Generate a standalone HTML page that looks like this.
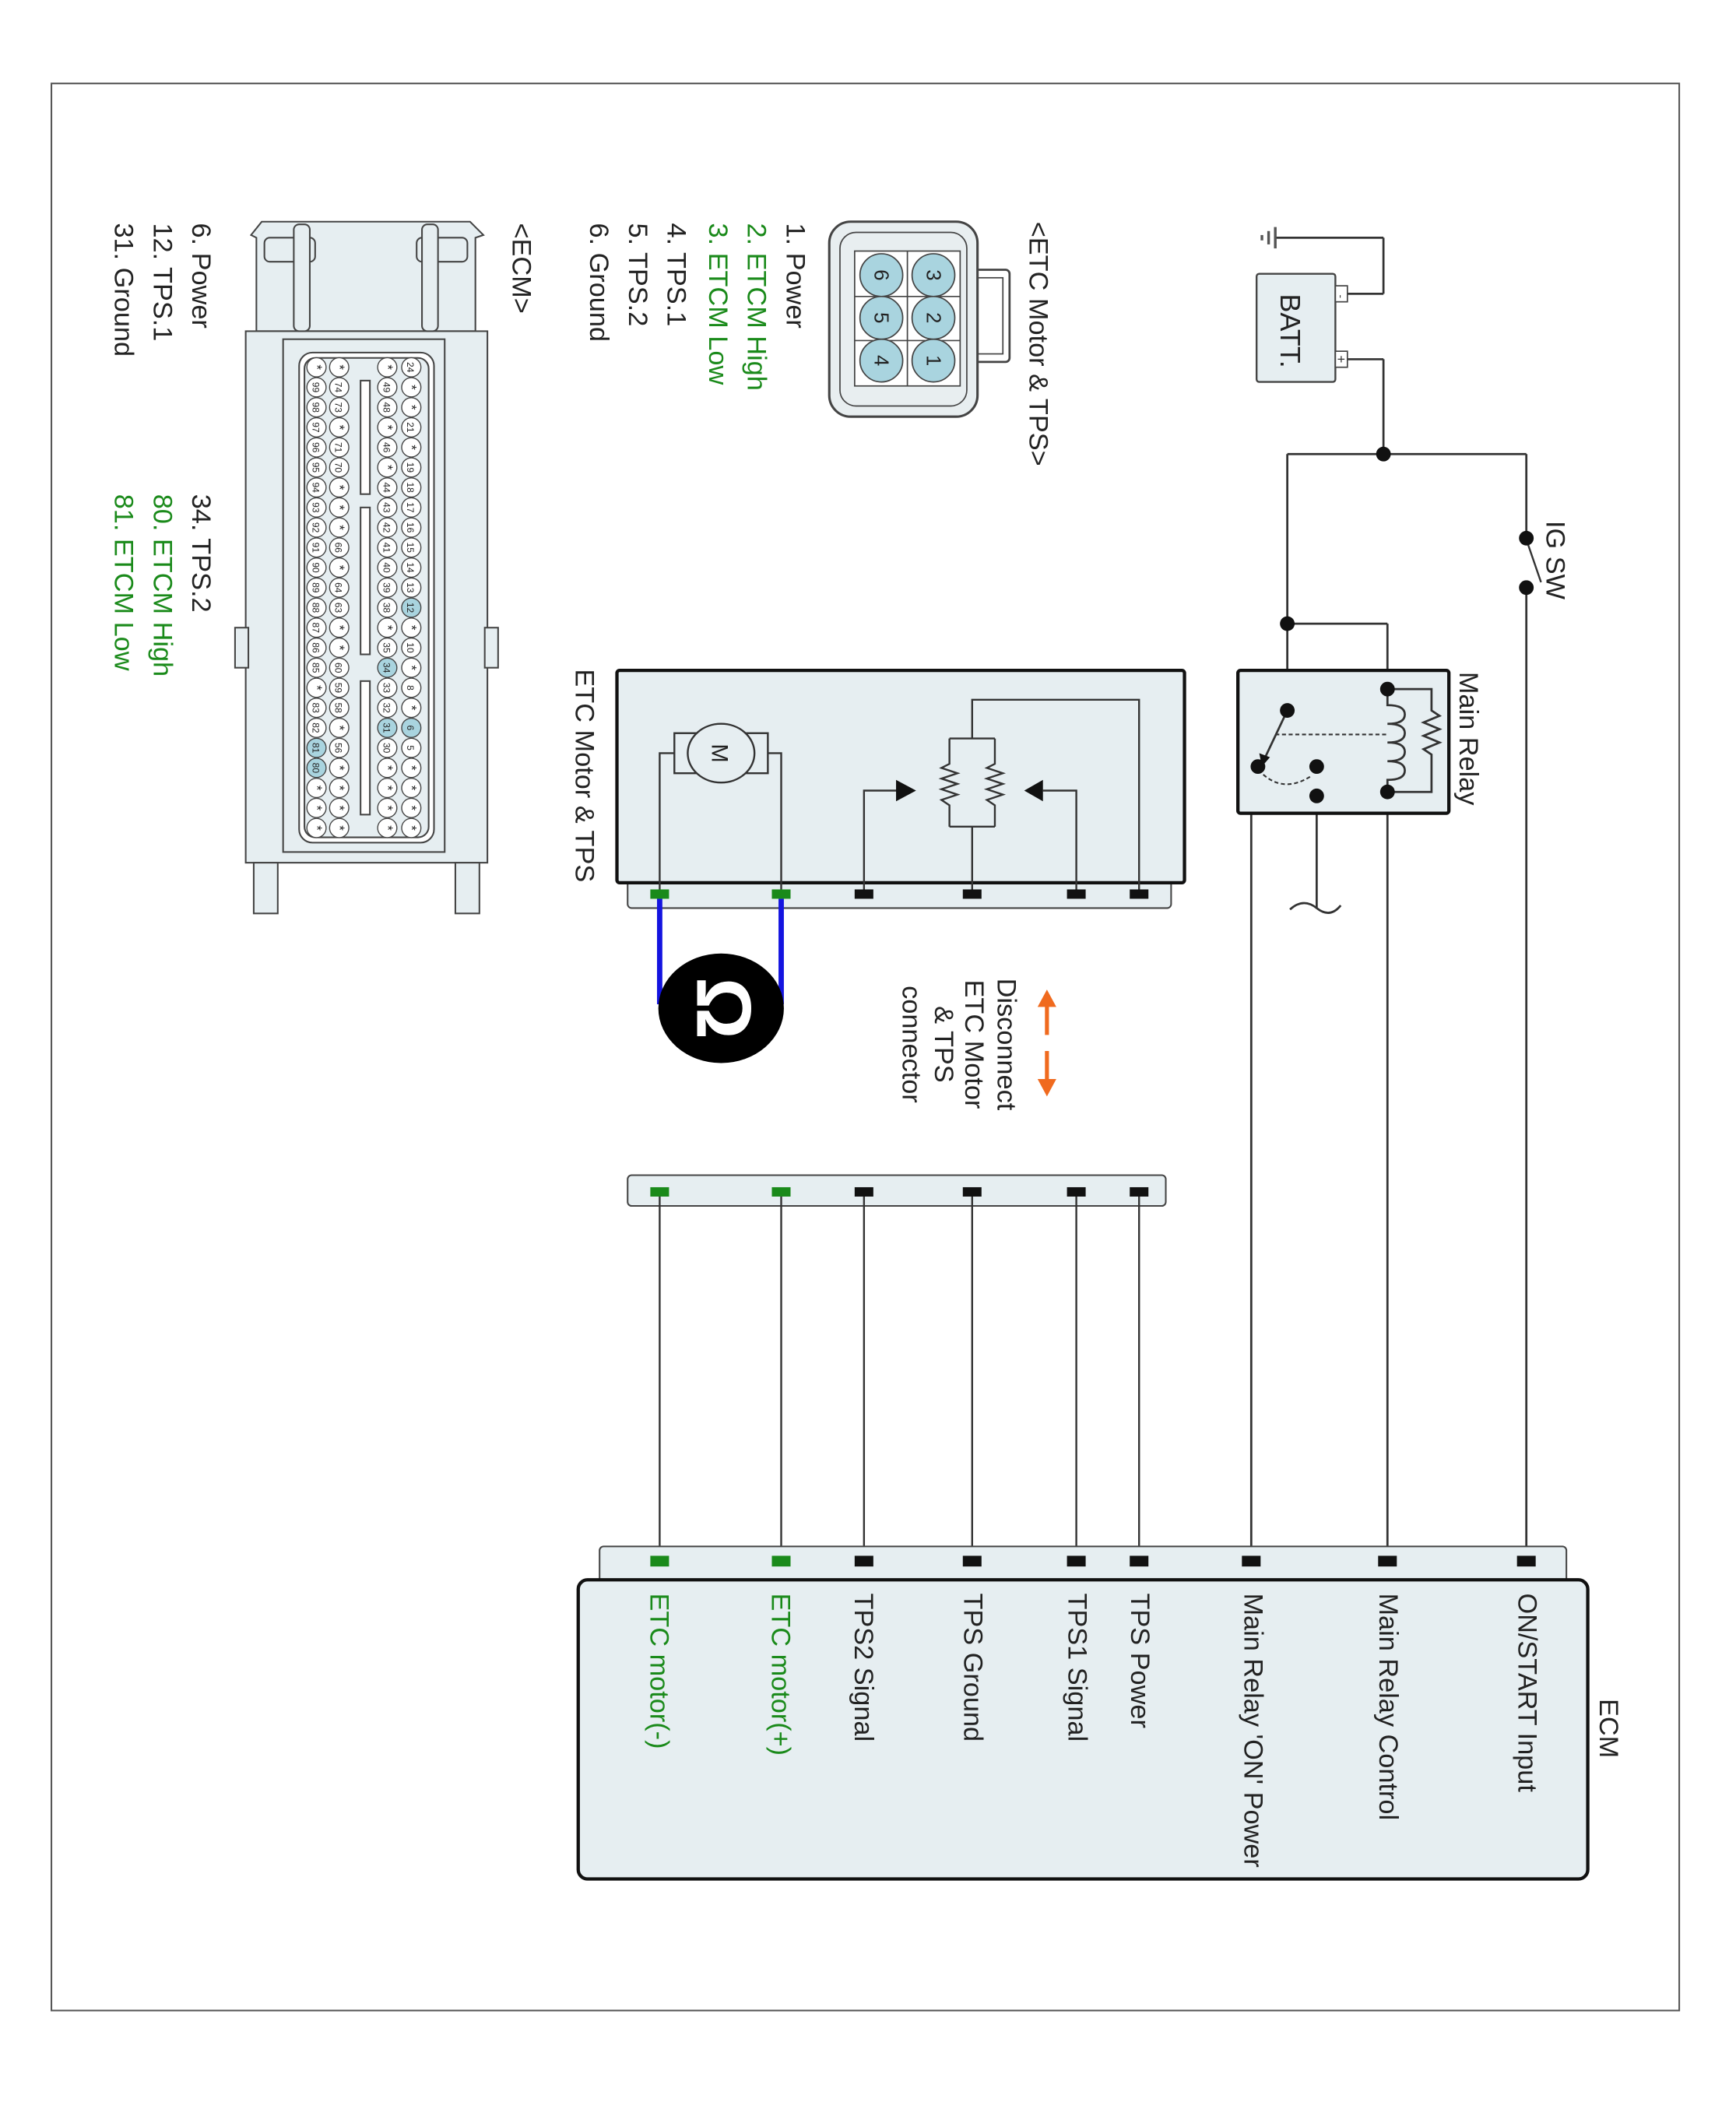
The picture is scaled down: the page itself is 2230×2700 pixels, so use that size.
<!DOCTYPE html>
<html><head><meta charset="utf-8">
<style>
html,body{margin:0;padding:0;background:#fff;}
svg{display:block;}
text{font-family:"Liberation Sans",Arial,sans-serif;}
</style></head>
<body>
<svg id="s" width="2230" height="2700" viewBox="0 0 1300 1574" xmlns="http://www.w3.org/2000/svg">
<rect x="0" y="0" width="1300" height="1574" fill="#fff"/>
<rect x="38.5" y="62.5" width="1219" height="1443" fill="none" stroke="#555" stroke-width="1.2"/>

<g stroke="#333" stroke-width="1.6" fill="none">
  <!-- ground & battery -->
  <line x1="955" y1="178" x2="1036" y2="178"/>
  <line x1="1036" y1="178" x2="1036" y2="220"/>
  <line x1="1009" y1="220" x2="1036" y2="220"/>
  <line x1="1009" y1="269" x2="1036" y2="269"/>
  <line x1="1036" y1="269" x2="1036" y2="340"/>
  <line x1="964" y1="340" x2="1143" y2="340"/>
  <line x1="1143" y1="340" x2="1143" y2="402"/>
  <line x1="1143" y1="440" x2="1143" y2="1168"/>
  <line x1="1143" y1="404" x2="1154" y2="436" stroke-width="1.4"/>
  <line x1="964" y1="340" x2="964" y2="532"/>
  <line x1="964" y1="467" x2="1039" y2="467"/>
  <line x1="1039" y1="467" x2="1039" y2="516"/>
  <line x1="1039" y1="593" x2="1039" y2="1168"/>
  <line x1="937" y1="596" x2="986" y2="596"/>
  <line x1="937" y1="596" x2="937" y2="1168"/>
  <line x1="986" y1="574" x2="986" y2="680"/>
  <path d="M966 681 Q976 672 986 680 Q996 688 1004 678"/>
</g>
<g stroke="#555" stroke-width="2">
  <line x1="955" y1="170" x2="955" y2="186"/>
  <line x1="950" y1="173" x2="950" y2="183"/>
  <line x1="945" y1="176" x2="945" y2="180"/>
</g>
<rect x="941" y="205" width="59" height="81" rx="2" fill="#e6eef1" stroke="#444" stroke-width="1.4"/>
<rect x="1000" y="214" width="9" height="12" fill="#fff" stroke="#444" stroke-width="1"/>
<rect x="1000" y="263" width="9" height="12" fill="#fff" stroke="#444" stroke-width="1"/>
<text transform="translate(1001.5,222) rotate(90)" font-size="8" fill="#333" text-anchor="middle">-</text>
<text transform="translate(1001,269) rotate(90)" font-size="10" fill="#333" text-anchor="middle">+</text>
<text transform="translate(959,220) rotate(90)" font-size="21" fill="#222">BATT.</text>
<g fill="#111">
  <circle cx="1036" cy="340" r="5.5"/>
  <circle cx="1143" cy="403" r="5.5"/>
  <circle cx="1143" cy="440" r="5.5"/>
  <circle cx="964" cy="467" r="5.5"/>
</g>
<text transform="translate(1158,390) rotate(90)" font-size="20" fill="#222">IG SW</text>

<!-- Main relay -->
<rect x="927" y="502" width="158" height="107" rx="2" fill="#e6eef1" stroke="#111" stroke-width="2.5"/>
<text transform="translate(1093,503) rotate(90)" font-size="20" fill="#222">Main Relay</text>
<g stroke="#333" stroke-width="1.6" fill="none">
  <path d="M1039 516 L1039 528 Q1052 528 1052 535 Q1052 542 1039 542 Q1052 542 1052 549 Q1052 556 1039 556 Q1052 556 1052 563 Q1052 570 1039 570 Q1052 570 1052 577 Q1052 584 1039 584 L1039 593"/>
  <path d="M1039 516 L1072 516 L1072 532 L1078 536 L1066 541 L1078 546 L1066 551 L1078 556 L1066 561 L1072 565 L1072 593 L1039 593"/>
  <line x1="964" y1="532" x2="947" y2="568"/>
  <line x1="955" y1="550" x2="1039" y2="550" stroke-dasharray="3,2" stroke-width="1.2"/>
  <path d="M946 580 Q962 594 982 581" stroke-dasharray="3,2" stroke-width="1.2"/>
</g>
<polygon points="945,574 943,564 951,567" fill="#111"/>
<g fill="#111">
  <circle cx="1039" cy="516" r="5.5"/>
  <circle cx="1039" cy="593" r="5.5"/>
  <circle cx="964" cy="532" r="5.5"/>
  <circle cx="942" cy="574" r="5.5"/>
  <circle cx="986" cy="574" r="5.5"/>
  <circle cx="986" cy="596" r="5.5"/>
</g>

<!-- ETC motor & TPS box -->
<rect x="470" y="655" width="407" height="25" rx="3" fill="#e6eef1" stroke="#444" stroke-width="1.2"/>
<rect x="462" y="502" width="425" height="159" rx="2" fill="#e6eef1" stroke="#111" stroke-width="2.5"/>
<text transform="translate(431,501) rotate(90)" font-size="20" fill="#222">ETC Motor &amp; TPS</text>
<g stroke="#333" stroke-width="1.4" fill="none">
  <path d="M494 667 L494 564 L505 564"/>
  <path d="M585 667 L585 564 L575 564"/>
  <rect x="505" y="549" width="70" height="30" fill="#e6eef1"/>
  <path d="M647 667 L647 592 L672 592"/>
  <path d="M806 667 L806 592 L781 592"/>
  <path d="M728 667 L728 619"/>
  <path d="M853 667 L853 524 L728 524 L728 553"/>
  <path d="M711 553 L745 553"/>
  <path d="M711 619 L745 619"/>
  <path d="M711 553 L711 572 L705 575 L717 579 L705 583 L717 587 L705 591 L717 595 L705 599 L711 603 L711 619"/>
  <path d="M745 553 L745 572 L739 575 L751 579 L739 583 L751 587 L739 591 L751 595 L739 599 L745 603 L745 619"/>
</g>
<ellipse cx="540" cy="564" rx="25" ry="22" fill="#e6eef1" stroke="#333" stroke-width="1.4"/>
<text transform="translate(533,564) rotate(90)" font-size="17" fill="#222" text-anchor="middle">M</text>
<polygon points="686,592 671,584 671,600" fill="#111"/>
<polygon points="767,592 781,584 781,600" fill="#111"/>
<g fill="#111">
  <rect x="640" y="666" width="14" height="7"/>
  <rect x="721" y="666" width="14" height="7"/>
  <rect x="799" y="666" width="14" height="7"/>
  <rect x="846" y="666" width="14" height="7"/>
</g>
<g fill="#1a8a1a">
  <rect x="487" y="666" width="14" height="7"/>
  <rect x="578" y="666" width="14" height="7"/>
</g>
<!-- Ohm meter -->
<g stroke="#1414e0" stroke-width="4">
  <line x1="494" y1="673" x2="494" y2="752"/>
  <line x1="585" y1="673" x2="585" y2="752"/>
</g>
<ellipse cx="540" cy="755" rx="47" ry="41" fill="#000"/>
<text transform="translate(522,755) rotate(90)" font-size="58" font-weight="bold" fill="#fff" text-anchor="middle">Ω</text>

<!-- disconnect -->
<g stroke="#f06a1e" stroke-width="3">
  <line x1="784" y1="750" x2="784" y2="775"/>
  <line x1="784" y1="787" x2="784" y2="812"/>
</g>
<polygon points="784,741 777,754 791,754" fill="#f06a1e"/>
<polygon points="784,821 777,808 791,808" fill="#f06a1e"/>
<g font-size="20" fill="#222" text-anchor="middle">
  <text transform="translate(747,782) rotate(90)">Disconnect</text>
  <text transform="translate(723,782) rotate(90)">ETC Motor</text>
  <text transform="translate(700,782) rotate(90)">&amp; TPS</text>
  <text transform="translate(676,782) rotate(90)">connector</text>
</g>

<!-- lower connector -->
<rect x="470" y="880" width="403" height="23" rx="3" fill="#e6eef1" stroke="#444" stroke-width="1.2"/>
<g stroke="#333" stroke-width="1.4">
  <line x1="494" y1="892" x2="494" y2="1168"/>
  <line x1="585" y1="892" x2="585" y2="1168"/>
  <line x1="647" y1="892" x2="647" y2="1168"/>
  <line x1="728" y1="892" x2="728" y2="1168"/>
  <line x1="806" y1="892" x2="806" y2="1168"/>
  <line x1="853" y1="892" x2="853" y2="1168"/>
</g>
<g fill="#111">
  <rect x="640" y="889" width="14" height="7"/>
  <rect x="721" y="889" width="14" height="7"/>
  <rect x="799" y="889" width="14" height="7"/>
  <rect x="846" y="889" width="14" height="7"/>
</g>
<g fill="#1a8a1a">
  <rect x="487" y="889" width="14" height="7"/>
  <rect x="578" y="889" width="14" height="7"/>
</g>

<!-- ECM -->
<rect x="449" y="1158" width="724" height="30" rx="3" fill="#e6eef1" stroke="#444" stroke-width="1.2"/>
<rect x="433" y="1183" width="756" height="224" rx="7" fill="#e6eef1" stroke="#111" stroke-width="2.5"/>
<g fill="#111">
  <rect x="640" y="1165" width="14" height="8"/>
  <rect x="721" y="1165" width="14" height="8"/>
  <rect x="799" y="1165" width="14" height="8"/>
  <rect x="846" y="1165" width="14" height="8"/>
  <rect x="930" y="1165" width="14" height="8"/>
  <rect x="1032" y="1165" width="14" height="8"/>
  <rect x="1136" y="1165" width="14" height="8"/>
</g>
<g fill="#1a8a1a">
  <rect x="487" y="1165" width="14" height="8"/>
  <rect x="578" y="1165" width="14" height="8"/>
</g>
<g font-size="20" fill="#222">
  <text transform="translate(1198,1272) rotate(90)">ECM</text>
  <text transform="translate(1137,1193) rotate(90)">ON/START Input</text>
  <text transform="translate(1033,1193) rotate(90)">Main Relay Control</text>
  <text transform="translate(932,1193) rotate(90)">Main Relay 'ON' Power</text>
  <text transform="translate(847,1193) rotate(90)">TPS Power</text>
  <text transform="translate(800,1193) rotate(90)">TPS1 Signal</text>
  <text transform="translate(722,1193) rotate(90)">TPS Ground</text>
  <text transform="translate(640,1193) rotate(90)">TPS2 Signal</text>
  <text transform="translate(578,1193) rotate(90)" fill="#1a8a1a">ETC motor(+)</text>
  <text transform="translate(487,1193) rotate(90)" fill="#1a8a1a">ETC motor(-)</text>
</g>

<!-- ETC connector detail -->
<text transform="translate(771,166) rotate(90)" font-size="20" fill="#222">&lt;ETC Motor &amp; TPS&gt;</text>
<rect x="726" y="202" width="30" height="69" rx="3" fill="#fff" stroke="#444" stroke-width="1.6"/>
<rect x="731" y="208" width="20" height="57" fill="#fff" stroke="#444" stroke-width="1"/>
<rect x="621" y="166" width="111" height="146" rx="16" fill="#e8eef0" stroke="#444" stroke-width="1.8"/>
<rect x="629" y="174" width="95" height="130" rx="12" fill="none" stroke="#444" stroke-width="1"/>
<rect x="640" y="188" width="79" height="101" fill="#fff" stroke="#444" stroke-width="1"/>
<line x1="679.5" y1="188" x2="679.5" y2="289" stroke="#444"/>
<line x1="640" y1="222" x2="719" y2="222" stroke="#444"/>
<line x1="640" y1="255" x2="719" y2="255" stroke="#444"/>
<g fill="#a9d4df" stroke="#444" stroke-width="1">
  <circle cx="699" cy="206" r="16"/><circle cx="699" cy="238" r="16"/><circle cx="699" cy="270" r="16"/>
  <circle cx="660" cy="206" r="16"/><circle cx="660" cy="238" r="16"/><circle cx="660" cy="270" r="16"/>
</g>
<g font-size="15" fill="#222" text-anchor="middle">
  <text transform="translate(694,206) rotate(90)">3</text>
  <text transform="translate(694,238) rotate(90)">2</text>
  <text transform="translate(694,270) rotate(90)">1</text>
  <text transform="translate(655,206) rotate(90)">6</text>
  <text transform="translate(655,238) rotate(90)">5</text>
  <text transform="translate(655,270) rotate(90)">4</text>
</g>
<g font-size="20" fill="#222">
  <text transform="translate(589,167) rotate(90)">1. Power</text>
  <text transform="translate(560,167) rotate(90)" fill="#1a8a1a">2. ETCM High</text>
  <text transform="translate(531,167) rotate(90)" fill="#1a8a1a">3. ETCM Low</text>
  <text transform="translate(500,167) rotate(90)">4. TPS.1</text>
  <text transform="translate(471,167) rotate(90)">5. TPS.2</text>
  <text transform="translate(442,167) rotate(90)">6. Ground</text>
  <text transform="translate(384,167) rotate(90)">&lt;ECM&gt;</text>
  <text transform="translate(144,167) rotate(90)">6. Power</text>
  <text transform="translate(115,167) rotate(90)">12. TPS.1</text>
  <text transform="translate(86,167) rotate(90)">31. Ground</text>
  <text transform="translate(144,370) rotate(90)">34. TPS.2</text>
  <text transform="translate(115,370) rotate(90)" fill="#1a8a1a">80. ETCM High</text>
  <text transform="translate(86,370) rotate(90)" fill="#1a8a1a">81. ETCM Low</text>
</g>

<!-- ECM connector drawing -->
<g stroke="#444" stroke-width="1.2" fill="#e6eef1">
  <path d="M188 176 L196 166 L352 166 L362 176 L356 178 L356 248 L192 248 L192 178 Z"/>
  <rect x="184" y="248" width="181" height="398"/>
  <rect x="212" y="254" width="121" height="384"/>
  <rect x="224" y="264" width="101" height="367" rx="10" fill="#fff"/>
  <rect x="228" y="268" width="93" height="359" rx="8" fill="#e6eef1"/>
  <rect x="198" y="178" width="38" height="18" rx="4"/>
  <rect x="312" y="178" width="38" height="18" rx="4"/>
  <rect x="220" y="168" width="12" height="80" rx="4"/>
  <rect x="316" y="168" width="12" height="80" rx="4"/>
  <rect x="190" y="646" width="18" height="38"/>
  <rect x="341" y="646" width="18" height="38"/>
  <rect x="176" y="470" width="10" height="30"/>
  <rect x="363" y="470" width="10" height="30"/>
  <rect x="270" y="285" width="7" height="85" fill="#fff"/>
  <rect x="270" y="380" width="7" height="110" fill="#fff"/>
  <rect x="270" y="510" width="7" height="100" fill="#fff"/>
</g>
<g id="pins"></g>
</svg>
<script>
var rows=[
 [308,["24","*","*","21","*","19","18","17","16","15","14","13","12","*","10","*","8","*","6","5","*","*","*","*"]],
 [290,["*","49","48","*","46","*","44","43","42","41","40","39","38","*","35","34","33","32","31","30","*","*","*","*"]],
 [254,["*","74","73","*","71","70","*","*","*","66","*","64","63","*","*","60","59","58","*","56","*","*","*","*"]],
 [237,["*","99","98","97","96","95","94","93","92","91","90","89","88","87","86","85","*","83","82","81","80","*","*","*"]]];
var hl={"12":1,"6":1,"34":1,"31":1,"81":1,"80":1};
var g=document.getElementById("pins"),ns="http://www.w3.org/2000/svg",h="";
rows.forEach(function(r){r[1].forEach(function(t,i){var y=275+i*15;
 h+='<circle cx="'+r[0]+'" cy="'+y+'" r="7.2" fill="'+(hl[t]?'#a9d4df':'#fff')+'" stroke="#444" stroke-width="0.8"/>';
 h+='<text transform="translate('+(r[0]-3)+','+y+') rotate(90)" font-size="'+(t=="*"?10:7)+'" text-anchor="middle" fill="#222">'+t+'</text>';});});
g.innerHTML=h;
</script>
</body></html>
